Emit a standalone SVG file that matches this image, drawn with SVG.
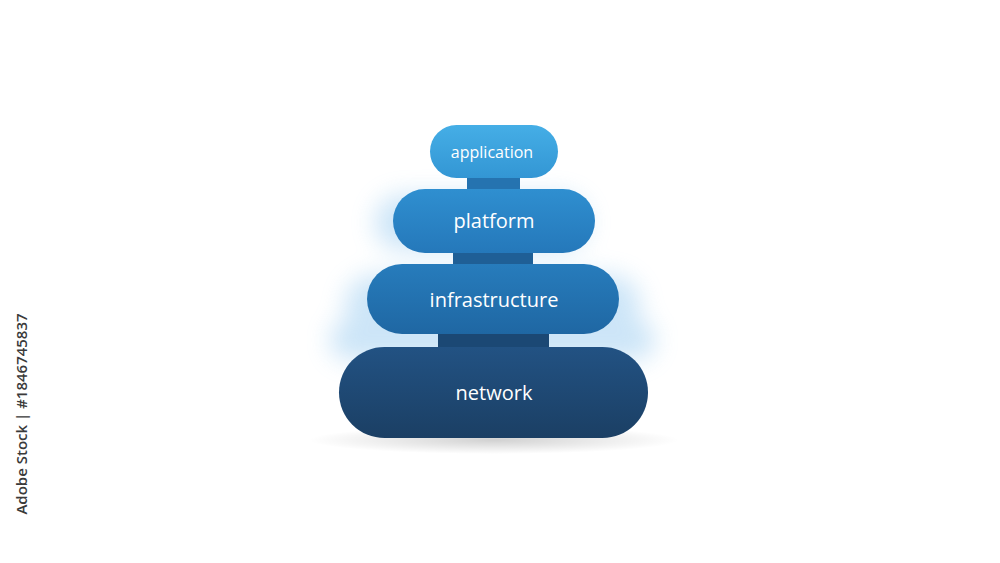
<svg xmlns="http://www.w3.org/2000/svg" width="1000" height="563" viewBox="0 0 1000 563">
  <style>
    .lbl { font-family: "Open Sans", "Noto Sans", sans-serif; fill: #ffffff; text-anchor: middle; dominant-baseline: central; }
    .wm { font-family: "Open Sans", "Noto Sans", sans-serif; fill: #3a3a3a; font-size: 15px; font-weight: 600; text-anchor: middle; }
  </style>
  <defs>
    <linearGradient id="gApp" x1="0" y1="0" x2="0" y2="1">
      <stop offset="0" stop-color="#45aee6"/>
      <stop offset="1" stop-color="#3396d4"/>
    </linearGradient>
    <linearGradient id="gPlat" x1="0" y1="0" x2="0" y2="1">
      <stop offset="0" stop-color="#2f8fd0"/>
      <stop offset="1" stop-color="#2578ba"/>
    </linearGradient>
    <linearGradient id="gInfra" x1="0" y1="0" x2="0" y2="1">
      <stop offset="0" stop-color="#277cbc"/>
      <stop offset="1" stop-color="#1f67a3"/>
    </linearGradient>
    <linearGradient id="gNet" x1="0" y1="0" x2="0" y2="1">
      <stop offset="0" stop-color="#225283"/>
      <stop offset="1" stop-color="#1b3f64"/>
    </linearGradient>
    <radialGradient id="gShadow" cx="0.5" cy="0.5" r="0.5">
      <stop offset="0" stop-color="#000000" stop-opacity="0.18"/>
      <stop offset="1" stop-color="#000000" stop-opacity="0"/>
    </radialGradient>
    <filter id="glow" x="-30%" y="-50%" width="160%" height="200%">
      <feGaussianBlur stdDeviation="12"/>
    </filter>
  </defs>
  <rect width="1000" height="563" fill="#ffffff"/>

  <!-- soft glow and shadow -->
  <g id="glows" opacity="0.35" filter="url(#glow)">
    <rect x="375" y="195" width="212" height="55" rx="27" fill="#6fb6ea"/>
    <rect x="345" y="275" width="295" height="60" rx="30" fill="#6fb6ea"/>
    <rect x="330" y="320" width="325" height="40" rx="20" fill="#6fb6ea"/>
  </g>
  <ellipse cx="494" cy="440" rx="185" ry="14" fill="url(#gShadow)"/>

  <!-- connectors -->
  <g id="connectors">
    <rect x="467" y="176" width="53" height="15" fill="#2573b0"/>
    <rect x="453" y="251" width="80" height="15" fill="#1f5f96"/>
    <rect x="438" y="332" width="111" height="17" fill="#1b4874"/>
  </g>

  <g id="network">
    <rect x="339" y="347" width="309" height="91" rx="45.5" fill="url(#gNet)"/>
    <text class="lbl" x="494" y="392" font-size="20">network</text>
  </g>
  <g id="infrastructure">
    <rect x="367" y="264" width="252" height="70" rx="35" fill="url(#gInfra)"/>
    <text class="lbl" x="494" y="299" font-size="20">infrastructure</text>
  </g>
  <g id="platform">
    <rect x="393" y="189" width="202" height="64" rx="32" fill="url(#gPlat)"/>
    <text class="lbl" x="494" y="220" font-size="20">platform</text>
  </g>
  <g id="application">
    <rect x="430" y="125" width="128" height="53" rx="26.5" fill="url(#gApp)"/>
    <text class="lbl" x="492" y="152" font-size="16">application</text>
  </g>

  <text class="wm" transform="translate(27 414) rotate(-90)">Adobe Stock | #1846745837</text>
</svg>
